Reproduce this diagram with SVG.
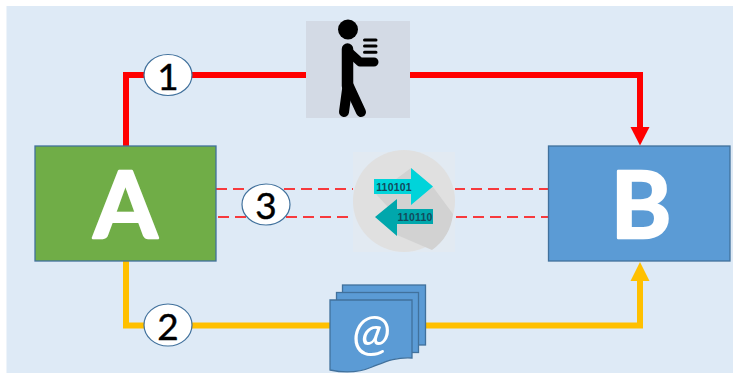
<svg xmlns="http://www.w3.org/2000/svg" width="733" height="374" viewBox="0 0 733 374">
<style>
.box{stroke:#41719c;stroke-width:1.3}
.big{font-family:Lato,"Open Sans",sans-serif;font-weight:700;font-size:92px;fill:#fff;stroke:#fff;stroke-width:2.500;stroke-linejoin:round;text-anchor:middle}
.num{font-family:Lato,"Open Sans",sans-serif;font-size:37px;fill:#000;stroke:#000;stroke-width:.4;text-anchor:middle}
.badge{fill:#fff;stroke:#41719c;stroke-width:1.2}
.wire{fill:none;stroke-width:6;stroke-linejoin:miter}
.dash{fill:none;stroke:#ff0000;stroke-width:1.6;stroke-dasharray:11 6}
.limb{fill:none;stroke:#000;stroke-linecap:round;stroke-linejoin:round}
.page{fill:#5b9bd5;stroke:#41719c;stroke-width:1.3}
.bin{font-family:"Liberation Sans",sans-serif;font-weight:700;font-size:10.500px;letter-spacing:.2px;fill:#134b5c;text-anchor:middle}
</style>
<rect width="733" height="374" fill="#fff"/>
<rect x="6.500" y="6" width="726.500" height="367" fill="#deeaf6"/>
<g id="connectors">
<path class="wire" stroke="#ff0000" d="M126 146V75H640V128"/>
<polygon points="630.500,127 649.500,127 640,145.500" fill="#ff0000"/>
<path class="wire" stroke="#ffc000" d="M126 261V325.500H640V280"/>
<polygon points="630.500,281 649.500,281 640,262" fill="#ffc000"/>
<path class="dash" d="M216 189H548"/>
<path class="dash" d="M218 217H548"/>
</g>
<g id="node-a">
<rect class="box" x="35" y="146" width="181" height="115" fill="#70ad47"/>
<text class="big" x="125.500" y="238">A</text>
</g>
<g id="node-b">
<rect class="box" x="548.500" y="146" width="181.500" height="115" fill="#5b9bd5"/>
<text class="big" x="641" y="238">B</text>
</g>
<g id="badge-1">
<ellipse class="badge" cx="168" cy="75" rx="24" ry="20.500"/>
<text class="num" x="168" y="90">1</text>
</g>
<g id="badge-2">
<ellipse class="badge" cx="168" cy="325" rx="24" ry="21"/>
<text class="num" x="168" y="340">2</text>
</g>
<g id="badge-3">
<ellipse class="badge" cx="266" cy="204.500" rx="24" ry="20.500"/>
<text class="num" x="266" y="219">3</text>
</g>
<g id="node-courier">
<rect x="306" y="21" width="104" height="97" fill="#d3dae5"/>
<circle cx="348" cy="29.500" r="10" fill="#000"/>
<path class="limb" stroke-width="11.500" d="M347.500 49V86"/>
<path class="limb" stroke-width="9" d="M349 52L360 62H374"/>
<path class="limb" stroke-width="10" d="M349 86L361 112"/>
<path class="limb" stroke-width="10" d="M347.500 86L344 112"/>
<path class="limb" stroke-width="3" d="M364.500 40H376M364.500 46H376M364.500 52.300H376"/>
</g>
<g id="node-transfer">
<rect x="353" y="152" width="102" height="100" fill="#e2eaf2"/>
<circle cx="404" cy="201" r="51" fill="#e0e0e0"/>
<path d="M376 194L397 217L397 235L432 250A51 51 0 0 0 453 214L433 187L411 168Z" fill="#d2d2d2"/>
<polygon points="374,179 411,179 411,168 433,186.500 411,205 411,194 374,194" fill="#00d4da"/>
<text class="bin" x="394" y="190.500">110101</text>
<polygon points="375,217 397,199 397,209 433,209 433,224 397,224 397,236" fill="#00a7ac"/>
<text class="bin" x="415" y="220.500">110110</text>
</g>
<g id="node-mail">
<rect class="page" x="342.500" y="285" width="83" height="60"/>
<rect class="page" x="336.500" y="292.500" width="82" height="60"/>
<path class="page" d="M330 300H412V358C395 357 385 362 372 367C358 373 344 373 330 370Z"/>
<text x="371.500" y="350" font-family="Lato,'Open Sans',sans-serif" font-style="italic" font-size="50" fill="#fff" text-anchor="middle">@</text>
</g>
</svg>
